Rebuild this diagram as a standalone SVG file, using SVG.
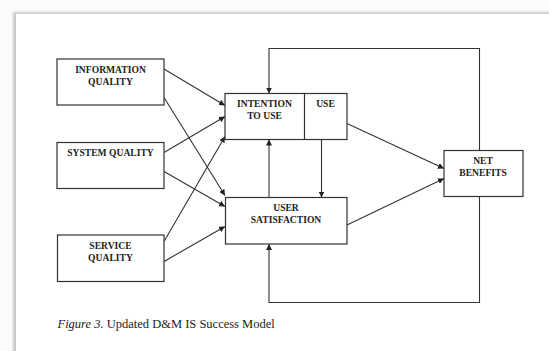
<svg xmlns="http://www.w3.org/2000/svg" width="549" height="351" viewBox="0 0 549 351">
  <defs>
    <marker id="arrow" viewBox="0 0 10 10" refX="10" refY="5" markerWidth="6" markerHeight="6" markerUnits="userSpaceOnUse" orient="auto">
      <path d="M0,0 L10,5 L0,10 z" fill="#222"/>
    </marker>
    <filter id="soft" x="-5%" y="-5%" width="110%" height="110%">
      <feGaussianBlur stdDeviation="0.9"/>
    </filter>
  </defs>
  <style>
    .box { fill: #fff; stroke: #333; stroke-width: 1.2; }
    .lbl { font-family: "Liberation Serif", "Times New Roman", serif; font-weight: bold; font-size: 9.6px; fill: #222; text-anchor: middle; }
    .cap { font-family: "Liberation Serif", "Times New Roman", serif; font-size: 12.5px; fill: #222; }
    .edge { fill: none; stroke: #333; stroke-width: 1.1; }
  </style>

  <!-- page background with a soft shadow along the top and left edges -->
  <rect x="0" y="0" width="549" height="351" fill="#fbfbfb"/>
  <rect x="13" y="12" width="540" height="345" fill="#c8c8c8" filter="url(#soft)"/>
  <rect x="16" y="14" width="533" height="337" fill="#fff"/>

  <!-- connectors -->
  <g id="connectors">
    <!-- quality dimensions into intention to use -->
    <line class="edge" x1="164" y1="69" x2="225" y2="105.5" marker-end="url(#arrow)"/>
    <line class="edge" x1="164" y1="152.5" x2="225" y2="116.5" marker-end="url(#arrow)"/>
    <line class="edge" x1="164" y1="241.5" x2="225" y2="136.5" marker-end="url(#arrow)"/>
    <!-- quality dimensions into user satisfaction -->
    <line class="edge" x1="164" y1="97.5" x2="225" y2="195.5" marker-end="url(#arrow)"/>
    <line class="edge" x1="164" y1="171.5" x2="225" y2="206.5" marker-end="url(#arrow)"/>
    <line class="edge" x1="164" y1="261.5" x2="225" y2="226.5" marker-end="url(#arrow)"/>
    <!-- use / satisfaction into net benefits -->
    <line class="edge" x1="347" y1="123.5" x2="444" y2="168.5" marker-end="url(#arrow)"/>
    <line class="edge" x1="347" y1="225" x2="444" y2="178.5" marker-end="url(#arrow)"/>
    <!-- between intention to use and user satisfaction -->
    <line class="edge" x1="269" y1="197.5" x2="269" y2="139.5" marker-end="url(#arrow)"/>
    <line class="edge" x1="321.5" y1="139.5" x2="321.5" y2="197.5" marker-end="url(#arrow)"/>
    <!-- feedback loops from net benefits -->
    <polyline class="edge" points="479.5,150.5 479.5,48.5 269,48.5 269,93.5" marker-end="url(#arrow)"/>
    <polyline class="edge" points="479.5,196.5 479.5,302.5 269,302.5 269,244" marker-end="url(#arrow)"/>
  </g>

  <g id="information-quality">
    <rect class="box" x="57" y="59" width="107" height="46"/>
    <text class="lbl" x="110.5" y="73">INFORMATION</text>
    <text class="lbl" x="110.5" y="85">QUALITY</text>
  </g>

  <g id="system-quality">
    <rect class="box" x="57" y="142.5" width="107" height="46"/>
    <text class="lbl" x="110.5" y="156">SYSTEM QUALITY</text>
  </g>

  <g id="service-quality">
    <rect class="box" x="57.5" y="235" width="106.5" height="46.5"/>
    <text class="lbl" x="110.5" y="248.5">SERVICE</text>
    <text class="lbl" x="110.5" y="260.5">QUALITY</text>
  </g>

  <g id="intention-use">
    <rect class="box" x="225" y="93.5" width="122" height="46"/>
    <line x1="304.5" y1="93.5" x2="304.5" y2="139.5" stroke="#333" stroke-width="1.2"/>
    <text class="lbl" x="264.5" y="107">INTENTION</text>
    <text class="lbl" x="264.5" y="119">TO USE</text>
    <text class="lbl" x="325.5" y="107">USE</text>
  </g>

  <g id="user-satisfaction">
    <rect class="box" x="225.5" y="197.5" width="121.5" height="46.5"/>
    <text class="lbl" x="286" y="210.5">USER</text>
    <text class="lbl" x="286" y="223">SATISFACTION</text>
  </g>

  <g id="net-benefits">
    <rect class="box" x="444" y="150.5" width="79" height="46"/>
    <text class="lbl" x="483" y="164">NET</text>
    <text class="lbl" x="483" y="176">BENEFITS</text>
  </g>

  <text class="cap" x="57.5" y="327.5"><tspan font-style="italic">Figure 3.</tspan> Updated D&amp;M IS Success Model</text>
</svg>
